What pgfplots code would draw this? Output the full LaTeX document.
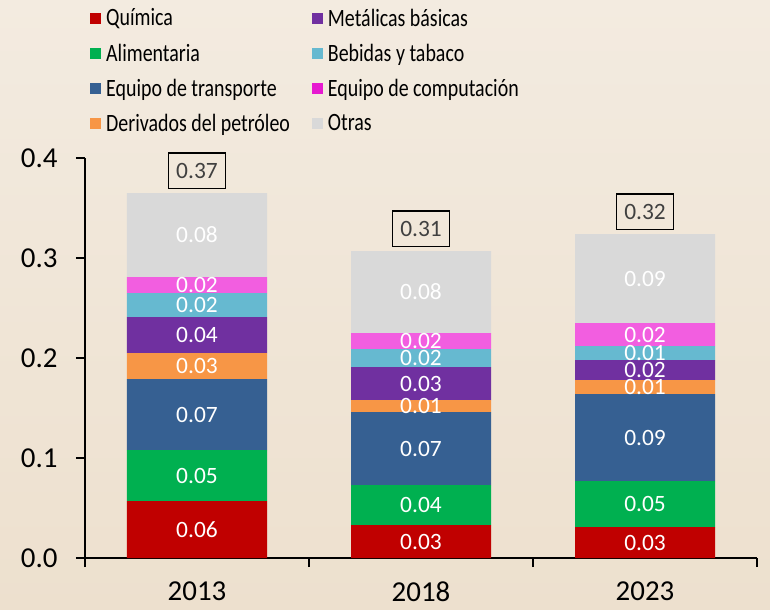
\documentclass[border=0pt]{standalone}
\usepackage{pgfplots}
\pgfplotsset{compat=1.18}
\usepackage{pgfplotstable}
\usepackage{fontspec}
\setmainfont{Carlito}
\usetikzlibrary{backgrounds}
\definecolor{cQuim}{HTML}{C00000}
\definecolor{cAlim}{HTML}{00B050}
\definecolor{cTrans}{HTML}{366092}
\definecolor{cPetro}{HTML}{F79646}
\definecolor{cMet}{HTML}{7030A0}
\definecolor{cBeb}{HTML}{66B9D0}
\definecolor{cComp}{HTML}{F25EE0}
\definecolor{cCompL}{HTML}{E619D0}
\definecolor{cOtras}{HTML}{D9D9D9}
\definecolor{bgtop}{HTML}{F3EBE0}
\definecolor{bgbot}{HTML}{EDE0CE}
\pgfplotstableread{
x quim alim trans petro met beb comp otras sum total
0 0.057 0.051 0.071 0.026 0.036 0.024 0.016 0.084 0.365 0.37
1 0.033 0.040 0.073 0.012 0.033 0.018 0.016 0.082 0.307 0.31
2 0.031 0.046 0.087 0.014 0.020 0.014 0.023 0.089 0.324 0.32
}\data
\begin{document}
\begin{tikzpicture}
\pgfplotsset{common/.style={
  scale only axis,
  width=672bp, height=400bp,
  xmin=-0.5, xmax=2.5,
  ymin=0, ymax=0.4}}
\begin{axis}[
  name=ax,
  common,
  ybar stacked,
  bar width=140bp,
  axis lines*=left,
  axis line style={black, line width=1.2pt},
  tick style={black, line width=1.2pt},
  tick align=outside,
  major tick length=9bp,
  xtick={-0.5,0.5,1.5,2.5},
  xticklabels={},
  extra x ticks={0,1,2},
  extra x tick labels={2013,2018,2023},
  extra x tick style={major tick length=0pt, tick style={draw=none}},
  xticklabel style={font=\fontsize{29}{32}\selectfont, yshift=-20bp},
  ytick={0,0.1,0.2,0.3,0.4},
  yticklabel style={font=\fontsize{29}{32}\selectfont, /pgf/number format/fixed, /pgf/number format/precision=1, /pgf/number format/fixed zerofill, xshift=-15bp},
  /pgf/number format/assume math mode=true,
  scaled y ticks=false,
  legend columns=2,
  legend cell align=left,
  legend style={draw=none, fill=none, inner sep=0pt,
    at={(axis description cs:0,1)}, anchor=south west, xshift=5bp, yshift=22bp,
    font=\fontsize{20}{22}\selectfont,
    nodes={yscale=1.25},
    /tikz/every even column/.append style={column sep=20bp},
    row sep=11bp},
  legend image code/.code={\fill[#1] (0bp,-5.5bp) rectangle (11bp,5.5bp); \path[draw=none,fill=none] (14bp,0bp) circle (0pt);},
  nodes near coords,
  nodes near coords style={font=\fontsize{23.5}{26}\selectfont, text=white, anchor=center,
    /pgf/number format/fixed, /pgf/number format/precision=2, /pgf/number format/fixed zerofill,
    /pgf/number format/assume math mode=true},
]
\addlegendimage{draw=none, fill=cQuim}\addlegendentry{Química}
\addlegendimage{draw=none, fill=cMet}\addlegendentry{Metálicas básicas}
\addlegendimage{draw=none, fill=cAlim}\addlegendentry{Alimentaria}
\addlegendimage{draw=none, fill=cBeb}\addlegendentry{Bebidas y tabaco}
\addlegendimage{draw=none, fill=cTrans}\addlegendentry{Equipo de transporte}
\addlegendimage{draw=none, fill=cCompL}\addlegendentry{Equipo de computación}
\addlegendimage{draw=none, fill=cPetro}\addlegendentry{Derivados del petróleo}
\addlegendimage{draw=none, fill=cOtras}\addlegendentry{Otras}
\addplot[fill=cQuim, draw=none, forget plot] table[x=x,y=quim]{\data};
\addplot[fill=cAlim, draw=none, forget plot] table[x=x,y=alim]{\data};
\addplot[fill=cTrans, draw=none, forget plot] table[x=x,y=trans]{\data};
\addplot[fill=cPetro, draw=none, forget plot] table[x=x,y=petro]{\data};
\addplot[fill=cMet, draw=none, forget plot] table[x=x,y=met]{\data};
\addplot[fill=cBeb, draw=none, forget plot] table[x=x,y=beb]{\data};
\addplot[fill=cComp, draw=none, forget plot] table[x=x,y=comp]{\data};
\addplot[fill=cOtras, draw=none, forget plot] table[x=x,y=otras]{\data};
\end{axis}
\begin{axis}[common, hide axis]
\addplot[only marks, mark=none, point meta=explicit,
  nodes near coords,
  nodes near coords style={font=\fontsize{23.5}{26}\selectfont, text=black!75, draw=black, line width=1.2pt,
    anchor=south, yshift=4bp, inner xsep=8bp, inner ysep=10bp,
    /pgf/number format/fixed, /pgf/number format/precision=2, /pgf/number format/fixed zerofill,
    /pgf/number format/assume math mode=true}]
  table[x=x,y=sum,meta=total]{\data};
\end{axis}
\begin{scope}[on background layer]
\shade[top color=bgtop, bottom color=bgbot] ([xshift=-85bp,yshift=-52bp]ax.south west) rectangle ([xshift=13bp,yshift=158bp]ax.north east);
\end{scope}
\pgfresetboundingbox
\path ([xshift=-85bp,yshift=-52bp]ax.south west) rectangle ([xshift=13bp,yshift=158bp]ax.north east);
\end{tikzpicture}
\end{document}
